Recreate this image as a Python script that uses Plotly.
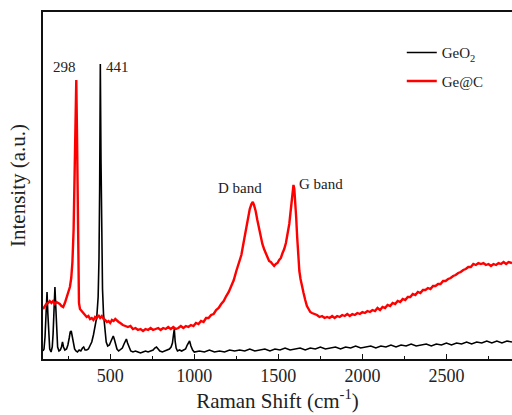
import plotly.graph_objects as go

# ---- data (intensity in arbitrary units) ----
geo2_shift = [100, 106, 112, 118, 124, 129, 134, 140, 148, 155, 160, 165, 171, 176, 181, 187, 195,
              203, 210, 216, 222, 230, 240, 248, 256, 262, 268, 274, 280, 288, 296, 305, 315, 325,
              335, 342, 350, 360, 370, 380, 390, 400, 410, 420, 428, 433, 437, 441, 445, 449, 454,
              460, 468, 476, 485, 495, 505, 512, 518, 524, 532, 540, 550, 560, 572, 582, 590, 596,
              603, 612, 622, 635, 650, 665, 680, 695, 710, 725, 740, 755, 765, 775, 785, 795, 810,
              825, 840, 852, 862, 870, 876, 881, 886, 892, 900, 912, 925, 938, 948, 958, 966, 972,
              980, 990, 1000, 1030, 1060, 1090, 1120, 1150, 1180, 1210, 1240, 1270, 1300, 1330,
              1360, 1390, 1420, 1450, 1480, 1510, 1540, 1570, 1600, 1630, 1660, 1690, 1720, 1750,
              1780, 1810, 1840, 1870, 1900, 1930, 1960, 1990, 2020, 2050, 2080, 2110, 2140, 2170,
              2200, 2230, 2260, 2290, 2320, 2350, 2380, 2410, 2440, 2470, 2500, 2530, 2560, 2590,
              2620, 2650, 2680, 2710, 2740, 2770, 2800, 2830, 2860, 2890]
geo2_int = [8, 10, 22, 45, 67, 45, 20, 10, 7, 12, 25, 52, 72, 52, 25, 12, 8,
            9, 12, 17, 12, 9, 10, 14, 21, 27, 28, 22, 15, 10, 8, 7, 9, 8,
            11, 12, 9, 9, 10, 13, 17, 24, 32, 42, 62, 100, 170, 295, 200, 120, 70,
            45, 28, 17, 13, 14, 18, 22, 23, 20, 14, 10, 8, 9, 11, 15, 19, 20,
            16, 11, 8, 7, 8, 7, 6, 7, 8, 7, 8, 9, 11, 12, 10, 8, 7,
            8, 9, 10, 12, 16, 24, 30, 18, 11, 8, 9, 8, 9, 10, 14, 17, 18,
            13, 9, 7, 8, 7, 9, 7, 8, 7, 9, 8, 9, 8, 10,
            8, 9, 10, 8, 10, 9, 11, 9, 10, 11, 9, 11, 10, 12,
            10, 11, 12, 10, 12, 11, 13, 11, 12, 13, 11, 13, 12, 14,
            12, 14, 13, 15, 13, 14, 15, 13, 15, 14, 16, 14, 16, 15,
            17, 15, 17, 16, 18, 16, 18, 16, 18, 17]

gec_shift = [100, 110, 120, 130, 140, 150, 160, 170, 180, 190, 200, 210, 220, 230, 240, 250, 260,
             268, 275, 282, 288, 293, 298, 302, 306, 310, 314, 320, 330, 340, 350, 360, 370, 380,
             390, 400, 410, 420, 430, 440, 450, 460, 470, 480, 490, 500, 510, 520, 530, 540, 550,
             560, 575, 590, 605, 620, 635, 650, 665, 680, 695, 710, 725, 740, 755, 770, 785, 800,
             815, 830, 845, 860, 875, 890, 905, 920, 935, 950, 965, 980, 995, 1010, 1025, 1040,
             1055, 1070, 1085, 1100, 1115, 1130, 1145, 1160, 1175, 1190, 1205, 1220, 1235, 1250,
             1265, 1280, 1295, 1310, 1320, 1330, 1340, 1348, 1355, 1365, 1375, 1385, 1395, 1405,
             1415, 1425, 1435, 1445, 1455, 1465, 1475, 1485, 1495, 1505, 1515, 1525, 1535, 1545,
             1555, 1565, 1572, 1578, 1584, 1590, 1595, 1600, 1606, 1612, 1618, 1625, 1632, 1640,
             1650, 1660, 1670, 1680, 1690, 1700, 1715, 1730, 1745, 1760, 1775, 1790, 1805, 1820,
             1835, 1850, 1865, 1880, 1895, 1910, 1925, 1940, 1955, 1970, 1985, 2000, 2015, 2030,
             2045, 2060, 2075, 2090, 2105, 2120, 2135, 2150, 2165, 2180, 2195, 2210, 2225, 2240,
             2255, 2270, 2285, 2300, 2315, 2330, 2345, 2360, 2375, 2390, 2405, 2420, 2435, 2450,
             2465, 2480, 2495, 2510, 2525, 2540, 2555, 2570, 2585, 2600, 2615, 2630, 2645, 2660,
             2675, 2690, 2705, 2720, 2735, 2750, 2765, 2780, 2795, 2810, 2825, 2840, 2855, 2870,
             2890]
gec_int = [50, 53, 55, 56, 58, 56, 58, 55, 57, 56, 55, 53, 52, 56, 61, 66, 72,
           81, 97, 129, 179, 239, 279, 229, 139, 74, 56, 50, 48, 46, 45, 42, 43, 40,
           41, 39, 42, 41, 44, 41, 43, 40, 39, 37, 38, 36, 39, 38, 40, 38, 37,
           36, 34, 33, 32, 33, 30, 31, 29, 30, 28, 30, 29, 31, 29, 30, 31, 29,
           31, 30, 32, 30, 32, 30, 31, 33, 31, 33, 32, 34, 33, 36, 35, 38,
           37, 41, 41, 44, 45, 49, 51, 55, 58, 63, 67, 73, 79, 88,
           96, 104, 118, 132, 142, 150, 155, 157, 154, 148, 139, 130, 122, 115,
           110, 105, 102, 98, 97, 95, 93, 95, 96, 99, 101, 106, 110, 116,
           125, 135, 146, 156, 168, 174, 170, 160, 142, 122, 103, 88, 80, 75,
           66, 59, 53, 50, 47, 46, 45, 44, 42, 43, 41, 42, 41, 43,
           41, 43, 42, 44, 43, 45, 43, 45, 44, 46, 45, 47, 46, 48,
           47, 49, 48, 51, 49, 52, 51, 54, 53, 56, 55, 58, 57, 60,
           59, 62, 62, 65, 64, 67, 66, 69, 69, 71, 70, 73, 73, 75,
           75, 78, 78, 80, 81, 83, 84, 86, 87, 89, 90, 92, 92, 95,
           94, 96, 95, 96, 94, 95, 93, 95, 94, 96, 95, 97, 95, 97,
           96]

series_names = ["GeO<sub>2</sub>", "Ge@C"]
series_colors = ["#000000", "#ff0000"]

peak_labels = ["298", "441"]
peak_positions = [298, 441]
band_labels = ["D band", "G band"]
band_positions = [1348, 1590]

major_ticks = [500, 1000, 1500, 2000, 2500]

FONT = "Liberation Serif, Times New Roman, serif"

fig = go.Figure()
fig.add_trace(go.Scatter(x=geo2_shift, y=geo2_int, mode="lines", name=series_names[0],
                         line=dict(color=series_colors[0], width=1.6), legendgroup="a"))
fig.add_trace(go.Scatter(x=gec_shift, y=gec_int, mode="lines", name=series_names[1],
                         line=dict(color=series_colors[1], width=2.4), legendgroup="b"))

# peak annotations
fig.add_annotation(x=peak_positions[0], y=292, text=peak_labels[0], showarrow=False,
                   xanchor="right", xshift=2, font=dict(family=FONT, size=15, color="#222"))
fig.add_annotation(x=peak_positions[1], y=292, text=peak_labels[1], showarrow=False,
                   xanchor="left", xshift=4, font=dict(family=FONT, size=15, color="#222"))
fig.add_annotation(x=band_positions[0], y=171, text=band_labels[0], showarrow=False,
                   xanchor="center", xshift=-13, font=dict(family=FONT, size=15, color="#222"))
fig.add_annotation(x=band_positions[1], y=175, text=band_labels[1], showarrow=False,
                   xanchor="left", xshift=4, font=dict(family=FONT, size=15, color="#222"))

fig.update_layout(
    width=512, height=415,
    margin=dict(l=43, r=0, t=12, b=56),
    paper_bgcolor="white", plot_bgcolor="white",
    font=dict(family=FONT, color="#222"),
    showlegend=True,
    legend=dict(x=0.765, y=0.93, xanchor="left", yanchor="top",
                bgcolor="rgba(0,0,0,0)", font=dict(family=FONT, size=15, color="#222"),
                tracegroupgap=6),
    xaxis=dict(range=[100, 2890], showgrid=False, zeroline=False,
               showline=True, linecolor="#111", linewidth=1.6, mirror=True,
               ticks="inside", ticklen=5, tickwidth=1.3, tickcolor="#111",
               tickvals=major_ticks, tickfont=dict(family=FONT, size=18, color="#222"),
               minor=dict(ticks="inside", ticklen=3, tickwidth=1.2, tickcolor="#111", dtick=250,
                          tick0=0, showgrid=False),
               title=dict(text="Raman Shift (cm<sup>-1</sup>)", font=dict(family=FONT, size=21, color="#222"),
                          standoff=7)),
    yaxis=dict(range=[0, 347], showgrid=False, zeroline=False, showticklabels=False,
               showline=True, linecolor="#111", linewidth=1.6, ticks="",
               title=dict(text="Intensity (a.u.)", font=dict(family=FONT, size=21, color="#222"),
                          standoff=10)),
)

fig.write_html("out.html")
